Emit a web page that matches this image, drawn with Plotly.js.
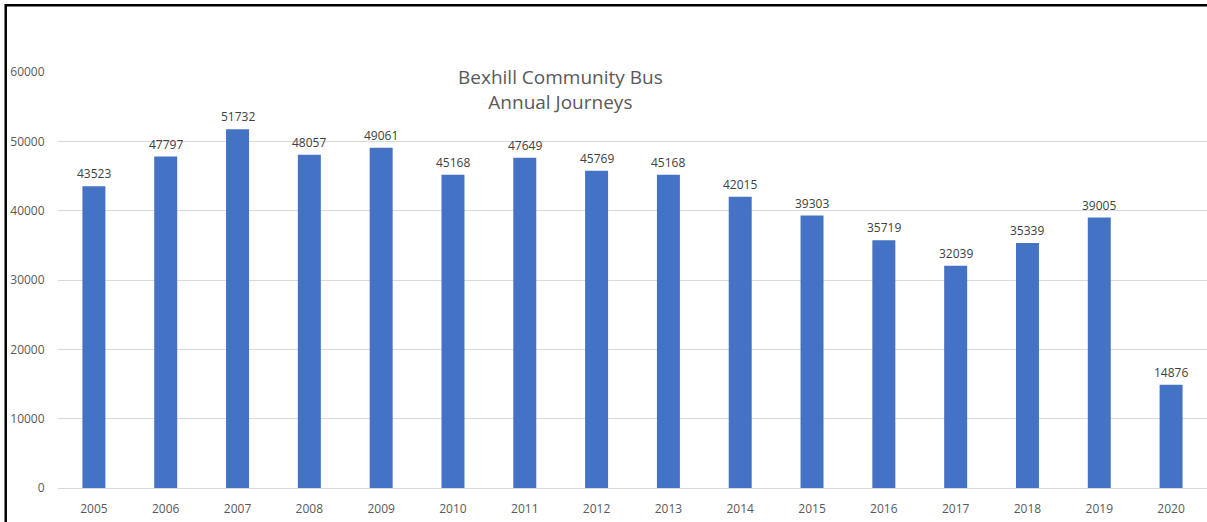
<!DOCTYPE html>
<html>
<head>
<meta charset="utf-8">
<script src="https://cdn.plot.ly/plotly-3.0.1.min.js"></script>
<style>
html,body{margin:0;padding:0;background:#fff;}
#chart{width:1207px;height:522px;}
</style>
</head>
<body>
<div id="chart"></div>
<script>
const years = ['2005','2006','2007','2008','2009','2010','2011','2012','2013','2014','2015','2016','2017','2018','2019','2020'];
const journeys = [43523,47797,51732,48057,49061,45168,47649,45769,45168,42015,39303,35719,32039,35339,39005,14876];
const yTicks = [0,10000,20000,30000,40000,50000,60000];
const titleText = 'Bexhill Community Bus<br>Annual Journeys';

const labelAnnotations = years.map((y, i) => ({
  x: i, y: journeys[i], xref: 'x', yref: 'y',
  text: String(journeys[i]), showarrow: false,
  yanchor: 'bottom', yshift: 2,
  font: {family: 'Open Sans, sans-serif', size: 12, color: '#404040'}
}));

const data = [{
  type: 'bar',
  x: years,
  y: journeys,
  marker: {color: '#4472C4'},
  hoverinfo: 'x+y'
}];

const layout = {
  width: 1207, height: 522,
  margin: {l: 58, r: 0, t: 72, b: 34, pad: 0},
  paper_bgcolor: '#ffffff', plot_bgcolor: '#ffffff',
  bargap: 0.68,
  showlegend: false,
  font: {family: 'Open Sans, sans-serif', size: 12, color: '#595959'},
  xaxis: {
    type: 'category',
    range: [-0.5, years.length - 0.5],
    autorange: false,
    showgrid: false, showline: false, zeroline: false,
    ticks: 'outside', ticklen: 10, tickcolor: 'rgba(0,0,0,0)',
    tickfont: {size: 12, color: '#595959'}
  },
  yaxis: {
    range: [0, 60000],
    autorange: false,
    tickvals: yTicks,
    ticktext: yTicks.map(String),
    showgrid: true, gridcolor: '#d9d9d9', gridwidth: 1,
    zeroline: true, zerolinecolor: '#d9d9d9', zerolinewidth: 1,
    showline: false,
    ticks: 'outside', ticklen: 10, tickcolor: 'rgba(0,0,0,0)',
    tickfont: {size: 12, color: '#595959'}
  },
  annotations: [{
    text: titleText, xref: 'paper', yref: 'paper',
    x: 0.437, y: 0.957, xanchor: 'center', yanchor: 'middle',
    showarrow: false,
    font: {family: 'Open Sans, sans-serif', size: 19, color: '#595959'}
  }].concat(labelAnnotations),
  shapes: [{
    type: 'path', xref: 'paper', yref: 'paper',
    path: 'M -0.0455 -0.1 L -0.0455 1.1605 L 1.01 1.1605',
    line: {color: '#000000', width: 2.5}
  }]
};

Plotly.newPlot('chart', data, layout, {displayModeBar: false, staticPlot: true});
</script>
</body>
</html>
